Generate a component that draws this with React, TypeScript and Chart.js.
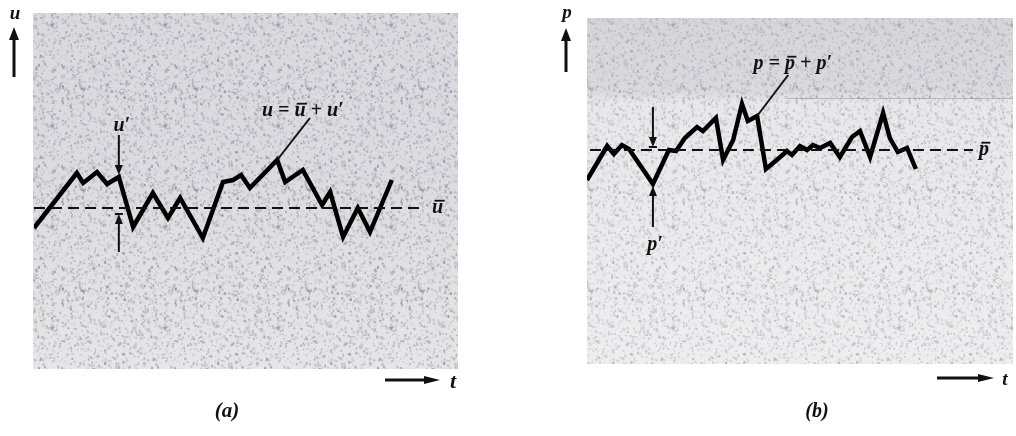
import React, { useEffect, useRef } from "react";
import { Chart, registerables } from "chart.js";

Chart.register(...registerables);

// ---- data (a): velocity u(t) about its mean ū = 0 ----
const uTime = [0, 10.2, 11.7, 15, 17.4, 20.2, 23.6, 28.3, 31.9, 34.8, 40.2, 45, 47.4, 49.3, 51.4, 57.9, 59.8, 64, 68.6, 70.5, 73.6, 77.1, 80, 85.2];
const uValues = [-5, 8.75, 6.25, 9, 6, 7.75, -4.75, 3.75, -2.5, 2.5, -7.5, 6.5, 7, 8.25, 5, 12, 6.5, 9.5, 0.75, 4, -7.25, 0, -6, 7];
const uMean = 0;
const uMeanSpan = [0, 93];

// ---- data (b): pressure p(t) about its mean p̄ = 0 ----
const pTime = [0, 4.8, 6.4, 8.3, 10, 15.7, 19.5, 21.2, 23.3, 26.2, 27.6, 30.7, 32.4, 34.8, 36.9, 38.3, 40.5, 42.6, 46, 47.6, 48.8, 50.7, 52.4, 53.8, 55.5, 57.9, 60.2, 63.1, 65, 67.4, 70.5, 72.1, 74, 76.2, 78.3];
const pValues = [-7.5, 1, -1, 1.25, 0.25, -8.5, 0, -0.25, 3, 5.75, 4.75, 8, -2.5, 2.5, 11.5, 7.25, 8.5, -4.75, -1.75, -0.25, -1.25, 1, 0, 1.25, 0.5, 1.75, -1.75, 3.25, 4.75, -1.75, 9.25, 3, -0.5, 0.5, -4.75];
const pMean = 0;
const pMeanSpan = [0.7, 91.9];

// annotation anchors (data units)
const uPrimeIndex = 5;
const uPrimeTop = 18.25;
const uPrimeBottom = [-11, -1.5];
const uLeaderIndex = 15;
const uLeaderEnd = [65.7, 22.5];
const uEqLabelAt = [64, 24.5];

const pPrimeIndex = 5;
const pPrimeTop = [10.75, 0.75];
const pPrimeBottom = [-19.25, -9];
const pPrimeLabel = -23.75;
const pLeaderIndex = 16;
const pLeaderEnd = [47.9, 18.75];
const pEqLabelAt = [49, 21.5];

const INK = "#111";
const SERIF = "'Liberation Serif', 'DejaVu Serif', serif";

type Part = { s: string; bar?: boolean };

function drawParts(ctx: CanvasRenderingContext2D, parts: Part[], x: number, baseline: number, size: number, align: "left" | "center" = "center") {
  ctx.font = `italic bold ${size}px ${SERIF}`;
  ctx.textAlign = "left";
  ctx.textBaseline = "alphabetic";
  const widths = parts.map((p) => ctx.measureText(p.s).width);
  const total = widths.reduce((a, b) => a + b, 0);
  let cx = align === "center" ? x - total / 2 : x;
  parts.forEach((p, i) => {
    ctx.fillText(p.s, cx, baseline);
    if (p.bar) {
      ctx.fillRect(cx + size * 0.12, baseline - size * 0.66, widths[i] - size * 0.05, Math.max(1.5, size * 0.09));
    }
    cx += widths[i];
  });
}

function arrow(ctx: CanvasRenderingContext2D, x1: number, y1: number, x2: number, y2: number, lw = 2, head = 10, hw = 4) {
  const ang = Math.atan2(y2 - y1, x2 - x1);
  const bx = x2 - head * Math.cos(ang);
  const by = y2 - head * Math.sin(ang);
  ctx.lineWidth = lw;
  ctx.beginPath();
  ctx.moveTo(x1, y1);
  ctx.lineTo(bx, by);
  ctx.stroke();
  ctx.beginPath();
  ctx.moveTo(x2, y2);
  ctx.lineTo(bx + hw * Math.sin(ang), by - hw * Math.cos(ang));
  ctx.lineTo(bx - hw * Math.sin(ang), by + hw * Math.cos(ang));
  ctx.closePath();
  ctx.fill();
}

function line(ctx: CanvasRenderingContext2D, x1: number, y1: number, x2: number, y2: number, lw = 2) {
  ctx.lineWidth = lw;
  ctx.beginPath();
  ctx.moveTo(x1, y1);
  ctx.lineTo(x2, y2);
  ctx.stroke();
}

// deterministic speckle texture for the printed-paper look (styling only)
function hash(n: number) {
  const v = Math.sin(n * 12.9898 + 78.233) * 43758.5453;
  return v - Math.floor(v);
}
let speckleTile: HTMLCanvasElement | null = null;
function speckle(ctx: CanvasRenderingContext2D) {
  if (!speckleTile) {
    const c = document.createElement("canvas");
    const W = 113, H = 101;
    c.width = W;
    c.height = H;
    const g = c.getContext("2d")!;
    for (let i = 0; i < 1100; i++) {
      const x = hash(i * 3 + 1) * W;
      const y = hash(i * 3 + 2) * H;
      const s = 0.8 + hash(i * 3 + 3) * 1.5;
      const sh = s * (0.6 + hash(i * 11 + 4));
      const shade = 95 + Math.floor(hash(i * 7 + 5) * 70);
      g.fillStyle = `rgba(${shade},${shade},${shade + 12},${0.18 + hash(i * 5 + 9) * 0.3})`;
      for (const dx of [0, -W]) {
        for (const dy of [0, -H]) {
          g.fillRect(x + dx, y + dy, s, sh);
        }
      }
    }
    speckleTile = c;
  }
  return ctx.createPattern(speckleTile, "repeat")!;
}

const decorA = {
  id: "decorA",
  beforeDraw(chart: any) {
    const ctx = chart.ctx as CanvasRenderingContext2D;
    const { left, right, top, bottom } = chart.chartArea;
    ctx.save();
    const g = ctx.createLinearGradient(0, top, 0, bottom);
    g.addColorStop(0, "#dadade");
    g.addColorStop(0.45, "#dcdce0");
    g.addColorStop(1, "#e6e6e8");
    ctx.fillStyle = g;
    const bx = left - 1, by = top + 1, bw = right - left + 5, bh = bottom - top;
    ctx.fillRect(bx, by, bw, bh);
    ctx.fillStyle = speckle(ctx);
    ctx.fillRect(bx, by, bw, bh);
    ctx.restore();
  },
  afterDraw(chart: any) {
    const ctx = chart.ctx as CanvasRenderingContext2D;
    const xs = chart.scales.x;
    const ys = chart.scales.y;
    const X = (v: number) => xs.getPixelForValue(v);
    const Y = (v: number) => ys.getPixelForValue(v);
    ctx.save();
    ctx.fillStyle = INK;
    ctx.strokeStyle = INK;
    arrow(ctx, 14, 77, 14, 27, 3, 13, 5);
    drawParts(ctx, [{ s: "u" }], 15, 19, 19);
    drawParts(ctx, [{ s: "u", bar: true }], X(uMeanSpan[1]) + 13, Y(uMean) + 5, 20);
    const mx = X(uTime[uPrimeIndex]);
    arrow(ctx, mx, Y(uPrimeTop), mx, Y(uValues[uPrimeIndex]) - 2, 2, 10, 4);
    drawParts(ctx, [{ s: "u′" }], mx + 3, Y(uPrimeTop) - 4, 20);
    arrow(ctx, mx, Y(uPrimeBottom[0]), mx, Y(uPrimeBottom[1]), 2, 10, 4);
    line(ctx, mx - 4, Y(uPrimeBottom[1]), mx + 4, Y(uPrimeBottom[1]), 2);
    line(ctx, X(uTime[uLeaderIndex]), Y(uValues[uLeaderIndex]), X(uLeaderEnd[0]), Y(uLeaderEnd[1]), 2);
    drawParts(ctx, [{ s: "u" }, { s: " = " }, { s: "u", bar: true }, { s: " + " }, { s: "u′" }], X(uEqLabelAt[0]), Y(uEqLabelAt[1]) + 6, 20);
    arrow(ctx, 385, 380, 440, 380, 3, 16, 4);
    drawParts(ctx, [{ s: "t" }], 453, 388, 22);
    drawParts(ctx, [{ s: "(a)" }], 227, 417, 21);
    ctx.restore();
  },
};

const decorB = {
  id: "decorB",
  beforeDraw(chart: any) {
    const ctx = chart.ctx as CanvasRenderingContext2D;
    const { left, right, top, bottom } = chart.chartArea;
    ctx.save();
    const g = ctx.createLinearGradient(0, top, 0, bottom);
    g.addColorStop(0, "#d6d6da");
    g.addColorStop(0.22, "#dadade");
    g.addColorStop(0.25, "#e8e8ea");
    g.addColorStop(1, "#eeeeef");
    ctx.fillStyle = g;
    const bx = left, by = top + 4, bw = right - left + 6, bh = bottom - top - 6;
    ctx.fillRect(bx, by, bw, bh);
    ctx.fillStyle = speckle(ctx);
    ctx.globalAlpha = 0.75;
    ctx.fillRect(bx, by, bw, bh);
    ctx.globalAlpha = 1;
    ctx.strokeStyle = "rgba(120,120,125,0.4)";
    ctx.lineWidth = 1;
    ctx.beginPath();
    ctx.moveTo(left + 200, top + 84.5);
    ctx.lineTo(right + 6, top + 84.5);
    ctx.stroke();
    ctx.restore();
  },
  afterDraw(chart: any) {
    const ctx = chart.ctx as CanvasRenderingContext2D;
    const xs = chart.scales.x;
    const ys = chart.scales.y;
    const X = (v: number) => xs.getPixelForValue(v);
    const Y = (v: number) => ys.getPixelForValue(v);
    ctx.save();
    ctx.fillStyle = INK;
    ctx.strokeStyle = INK;
    arrow(ctx, 58, 72, 58, 28, 3, 13, 5);
    drawParts(ctx, [{ s: "p" }], 59, 18, 19);
    drawParts(ctx, [{ s: "p", bar: true }], X(pMeanSpan[1]) + 11, Y(pMean) + 5, 20);
    const mx = X(pTime[pPrimeIndex]);
    arrow(ctx, mx, Y(pPrimeTop[0]), mx, Y(pPrimeTop[1]), 2, 10, 4);
    line(ctx, mx - 4, Y(pPrimeTop[1]), mx + 4, Y(pPrimeTop[1]), 2);
    arrow(ctx, mx, Y(pPrimeBottom[0]), mx, Y(pPrimeBottom[1]), 2, 10, 4);
    drawParts(ctx, [{ s: "p′" }], mx + 2, Y(pPrimeLabel) + 5, 20);
    line(ctx, X(pTime[pLeaderIndex]), Y(pValues[pLeaderIndex]), X(pLeaderEnd[0]), Y(pLeaderEnd[1]), 2);
    drawParts(ctx, [{ s: "p" }, { s: " = " }, { s: "p", bar: true }, { s: " + " }, { s: "p′" }], X(pEqLabelAt[0]), Y(pEqLabelAt[1]) + 5, 20);
    arrow(ctx, 429, 378, 486, 378, 3, 16, 4);
    drawParts(ctx, [{ s: "t" }], 497, 385, 19);
    drawParts(ctx, [{ s: "(b)" }], 309, 417, 20);
    ctx.restore();
  },
};

function makeConfig(times: number[], values: number[], meanSpan: number[], mean: number, yMin: number, yMax: number, padding: any, plugin: any): any {
  return {
    type: "line",
    data: {
      datasets: [
        {
          data: [
            { x: meanSpan[0], y: mean },
            { x: meanSpan[1], y: mean },
          ],
          borderColor: INK,
          borderWidth: 2,
          borderDash: [11, 6],
          pointRadius: 0,
        },
        {
          data: times.map((t, i) => ({ x: t, y: values[i] })),
          borderColor: "#000",
          borderWidth: 4.5,
          borderJoinStyle: "miter",
          borderCapStyle: "butt",
          pointRadius: 0,
          tension: 0,
        },
      ],
    },
    options: {
      animation: false,
      responsive: false,
      maintainAspectRatio: false,
      devicePixelRatio: 1,
      layout: { padding },
      plugins: { legend: { display: false }, tooltip: { enabled: false } },
      scales: {
        x: { type: "linear", min: 0, max: 100, display: false },
        y: { type: "linear", min: yMin, max: yMax, display: false },
      },
    },
    plugins: [plugin],
  };
}

export default function App() {
  const refA = useRef<HTMLCanvasElement>(null);
  const refB = useRef<HTMLCanvasElement>(null);
  useEffect(() => {
    const a = new Chart(refA.current!, makeConfig(uTime, uValues, uMeanSpan, uMean, -40, 49, { left: 34, right: 54, top: 12, bottom: 68 }, decorA));
    const b = new Chart(refB.current!, makeConfig(pTime, pValues, pMeanSpan, pMean, -54, 34, { left: 79, right: 9, top: 14, bottom: 70 }, decorB));
    return () => {
      a.destroy();
      b.destroy();
    };
  }, []);
  return (
    <div style={{ position: "absolute", left: 0, top: 0, width: 1016, height: 436, background: "#fff", overflow: "hidden" }}>
      <canvas ref={refA} width={508} height={436} style={{ position: "absolute", left: 0, top: 0, width: 508, height: 436 }} />
      <canvas ref={refB} width={508} height={436} style={{ position: "absolute", left: 508, top: 0, width: 508, height: 436 }} />
    </div>
  );
}
